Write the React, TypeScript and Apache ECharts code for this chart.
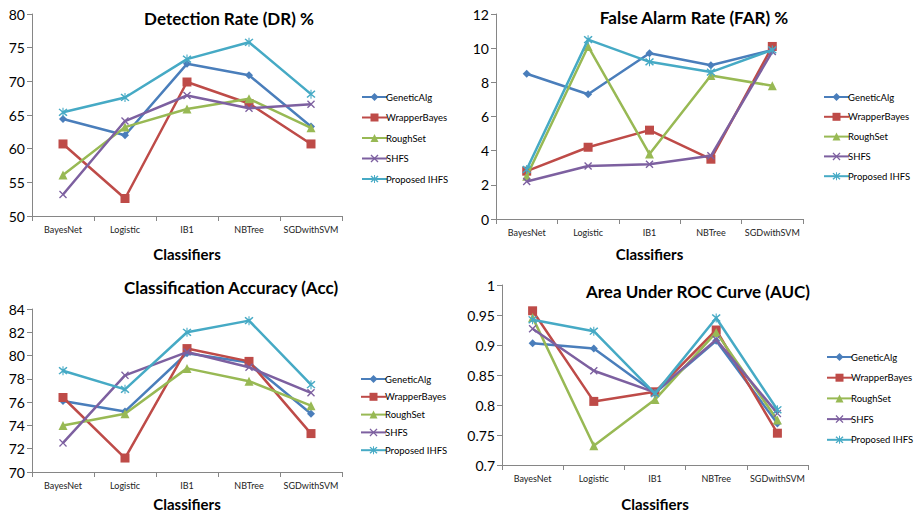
import React, { useEffect, useRef } from "react";
import * as echarts from "echarts";

const categories = ["BayesNet", "Logistic", "IB1", "NBTree", "SGDwithSVM"];
const seriesNames = ["GeneticAlg", "WrapperBayes", "RoughSet", "SHFS", "Proposed IHFS"];

// Detection Rate (DR) %
const drGenetic = [64.4, 62.0, 72.6, 70.9, 63.3];
const drWrapper = [60.7, 52.6, 69.9, 66.7, 60.7];
const drRough = [56.1, 63.2, 65.9, 67.4, 63.1];
const drShfs = [53.2, 64.1, 67.9, 66.0, 66.6];
const drIhfs = [65.4, 67.6, 73.3, 75.8, 68.1];

// False Alarm Rate (FAR) %
const farGenetic = [8.5, 7.3, 9.7, 9.0, 9.9];
const farWrapper = [2.8, 4.2, 5.2, 3.5, 10.1];
const farRough = [2.5, 10.1, 3.8, 8.4, 7.8];
const farShfs = [2.2, 3.1, 3.2, 3.7, 9.8];
const farIhfs = [2.9, 10.5, 9.2, 8.6, 9.9];

// Classification Accuracy (Acc)
const accGenetic = [76.1, 75.2, 80.2, 79.4, 75.0];
const accWrapper = [76.4, 71.2, 80.6, 79.5, 73.3];
const accRough = [74.0, 75.0, 78.9, 77.8, 75.7];
const accShfs = [72.5, 78.3, 80.3, 79.0, 76.8];
const accIhfs = [78.7, 77.1, 82.0, 83.0, 77.5];

// Area Under ROC Curve (AUC)
const aucGenetic = [0.903, 0.894, 0.82, 0.907, 0.769];
const aucWrapper = [0.957, 0.806, 0.822, 0.925, 0.753];
const aucRough = [0.946, 0.732, 0.809, 0.921, 0.775];
const aucShfs = [0.927, 0.857, 0.821, 0.909, 0.786];
const aucIhfs = [0.942, 0.923, 0.819, 0.945, 0.792];

const titles = [
  "Detection Rate (DR) %",
  "False Alarm Rate (FAR) %",
  "Classification Accuracy (Acc)",
  "Area Under ROC Curve (AUC)",
];
const xAxisName = "Classifiers";

const colors = ["#4A7EBB", "#BE4B48", "#98B954", "#7D60A0", "#46AAC5"];
const X_PATH = "path://M0,1.2L1.2,0L5,3.8L8.8,0L10,1.2L6.2,5L10,8.8L8.8,10L5,6.2L1.2,10L0,8.8L3.8,5Z";
const STAR_PATH =
  "path://M0,1.2L1.2,0L5,3.8L8.8,0L10,1.2L6.2,5L10,8.8L8.8,10L5,6.2L1.2,10L0,8.8L3.8,5ZM4.4,-0.8L5.6,-0.8L5.6,10.8L4.4,10.8Z";
const symbols = ["diamond", "rect", "triangle", X_PATH, STAR_PATH];
const symbolSizes = [8, 9, 9, 8, 9];

const FONT = "Lato, 'Open Sans', sans-serif";

export default function App() {
  const ref = useRef<HTMLDivElement>(null);
  useEffect(() => {
    if (!ref.current) return;
    const chart = echarts.init(ref.current, null, { renderer: "svg" });

    const data = [
      [drGenetic, drWrapper, drRough, drShfs, drIhfs],
      [farGenetic, farWrapper, farRough, farShfs, farIhfs],
      [accGenetic, accWrapper, accRough, accShfs, accIhfs],
      [aucGenetic, aucWrapper, aucRough, aucShfs, aucIhfs],
    ];
    const grids = [
      { left: 32, top: 14, width: 310, height: 202 },
      { left: 496, top: 14, width: 307, height: 205 },
      { left: 32, top: 309, width: 310, height: 166 },
      { left: 502, top: 285, width: 306, height: 182 },
    ];
    const yCfg = [
      { min: 50, max: 80, interval: 5 },
      { min: 0, max: 12, interval: 2 },
      { min: 70, max: 84, interval: 2 },
      { min: 0.7, max: 1, interval: 0.05 },
    ];
    const nameGaps = [30, 27, 24, 31];
    const legendPos = [
      { left: 356, top: 87, itemGap: 10.5 },
      { left: 818, top: 87, itemGap: 9.8 },
      { left: 355, top: 369, itemGap: 7.8 },
      { left: 821, top: 347, itemGap: 10.7 },
    ];
    const titlePos = [
      { x: 229, y: 18 },
      { x: 694, y: 17 },
      { x: 231, y: 287 },
      { x: 698, y: 291 },
    ];

    const axisColor = "#868686";
    const series: any[] = [];
    data.forEach((set, gi) => {
      set.forEach((vals, si) => {
        series.push({
          type: "line",
          name: seriesNames[si],
          xAxisIndex: gi,
          yAxisIndex: gi,
          data: vals,
          symbol: symbols[si],
          symbolSize: symbolSizes[si],
          showAllSymbol: true,
          lineStyle: { color: colors[si], width: 2.5 },
          itemStyle: { color: colors[si] },
          z: 2 + si,
        });
      });
    });

    chart.setOption({
      animation: false,
      backgroundColor: "#ffffff",
      color: colors,
      grid: grids.map((g) => ({ ...g, containLabel: false })),
      xAxis: grids.map((_, i) => ({
        type: "category",
        gridIndex: i,
        data: categories,
        boundaryGap: true,
        name: xAxisName,
        nameLocation: "middle",
        nameGap: nameGaps[i],
        nameTextStyle: { fontFamily: FONT, fontWeight: "bold", fontSize: 15, color: "#000" },
        axisLine: { lineStyle: { color: axisColor, width: 1 } },
        axisTick: { show: true, length: 5, lineStyle: { color: axisColor } },
        axisLabel: { fontFamily: FONT, fontSize: 9, color: "#222", margin: 9, interval: 0 },
        splitLine: { show: false },
      })),
      yAxis: grids.map((_, i) => ({
        type: "value",
        gridIndex: i,
        min: yCfg[i].min,
        max: yCfg[i].max,
        interval: yCfg[i].interval,
        axisLine: { show: true, lineStyle: { color: axisColor, width: 1 } },
        axisTick: { show: true, length: 5, lineStyle: { color: axisColor } },
        axisLabel: {
          fontFamily: FONT,
          fontSize: 14,
          color: "#000",
          margin: 7,
          formatter: (v: number) => String(+v.toFixed(2)),
        },
        splitLine: { show: false },
      })),
      legend: legendPos.map((p) => ({
        left: p.left,
        top: p.top,
        orient: "vertical",
        data: seriesNames,
        itemWidth: 25,
        itemHeight: 10,
        itemGap: p.itemGap,
        selectedMode: false,
        textStyle: { fontFamily: FONT, fontSize: 9.5, color: "#000", padding: [0, 0, 0, -6] },
      })),
      graphic: titlePos.map((p, i) => ({
        type: "text",
        x: p.x,
        y: p.y,
        style: {
          text: titles[i],
          fill: "#000",
          font: `bold 17px ${FONT}`,
          textAlign: "center",
          textVerticalAlign: "middle",
        },
      })),
      series,
    });
    return () => chart.dispose();
  }, []);
  return (
    <div
      ref={ref}
      style={{ position: "fixed", left: 0, top: 0, width: 917, height: 512, background: "#fff" }}
    />
  );
}
